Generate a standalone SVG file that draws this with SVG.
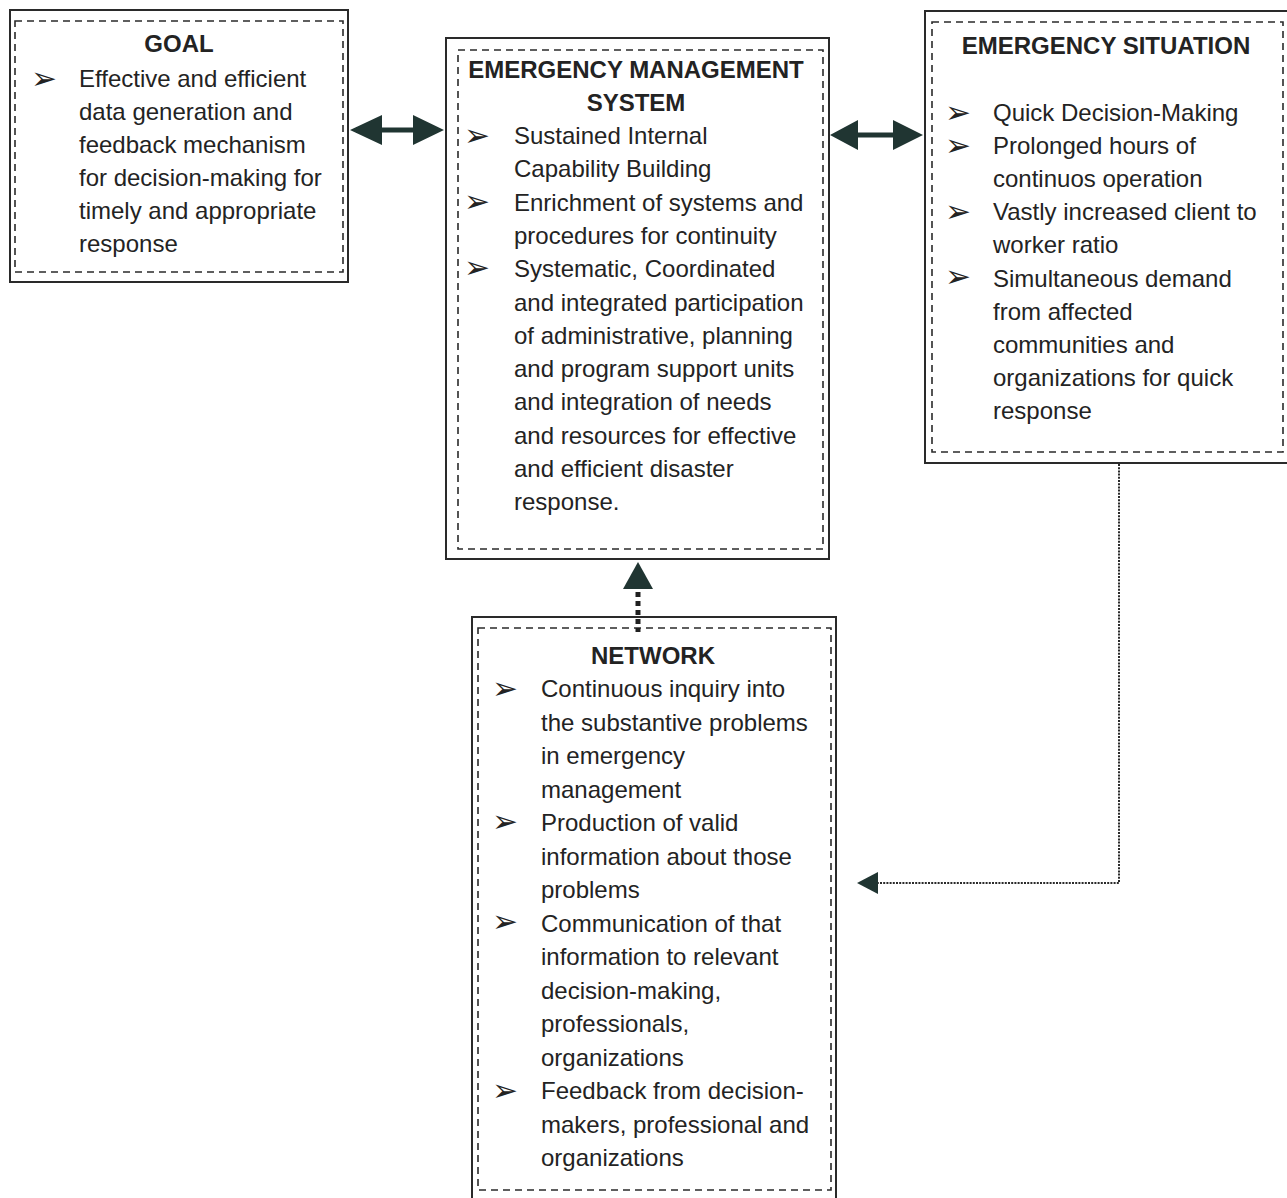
<svg xmlns="http://www.w3.org/2000/svg" width="1287" height="1198" viewBox="0 0 1287 1198">
<style>
.outer{fill:none;stroke:#2a2a2a;stroke-width:2}
.inner{fill:none;stroke:#2a2a2a;stroke-width:1.6;stroke-dasharray:7 5}
.h{font-family:"Liberation Sans",Arial,sans-serif;font-size:24px;font-weight:bold;fill:#232323;text-anchor:middle}
.t{font-family:"Liberation Sans",Arial,sans-serif;font-size:24px;fill:#232323}
.b{font-family:"DejaVu Sans",sans-serif;font-size:31px;fill:#232323}
.arr{fill:#203532}
.dot{fill:none;stroke:#2a2a2a;stroke-width:2;stroke-dasharray:2 1.2}
</style>
<rect width="1287" height="1198" fill="#ffffff"/>

<g id="goal">
<rect class="outer" x="10" y="10" width="338" height="272"/>
<rect class="inner" x="15" y="21" width="328" height="251"/>
<text class="h" x="179" y="52">GOAL</text>
<text class="b" x="31" y="89">➢</text>
<text class="t" x="79" y="87"><tspan x="79" dy="0">Effective and efficient</tspan><tspan x="79" dy="33">data generation and</tspan><tspan x="79" dy="33">feedback mechanism</tspan><tspan x="79" dy="33">for decision-making for</tspan><tspan x="79" dy="33">timely and appropriate</tspan><tspan x="79" dy="33">response</tspan></text>
</g>

<g id="ems">
<rect class="outer" x="446" y="38" width="383" height="521"/>
<rect class="inner" x="458" y="50" width="365" height="499"/>
<text class="h" x="636" y="78">EMERGENCY MANAGEMENT</text>
<text class="h" x="636" y="111">SYSTEM</text>
<text class="b" x="464" y="146">➢</text>
<text class="b" x="464" y="212">➢</text>
<text class="b" x="464" y="278">➢</text>
<text class="t" x="514" y="144"><tspan x="514" dy="0">Sustained Internal</tspan><tspan x="514" dy="33.3">Capability Building</tspan><tspan x="514" dy="33.3">Enrichment of systems and</tspan><tspan x="514" dy="33.3">procedures for continuity</tspan><tspan x="514" dy="33.3">Systematic, Coordinated</tspan><tspan x="514" dy="33.3">and integrated participation</tspan><tspan x="514" dy="33.3">of administrative, planning</tspan><tspan x="514" dy="33.3">and program support units</tspan><tspan x="514" dy="33.3">and integration of needs</tspan><tspan x="514" dy="33.3">and resources for effective</tspan><tspan x="514" dy="33.3">and efficient disaster</tspan><tspan x="514" dy="33.3">response.</tspan></text>
</g>

<g id="emergency-situation">
<rect class="outer" x="925" y="11" width="370" height="452"/>
<rect class="inner" x="932" y="22" width="351" height="430"/>
<text class="h" x="1106" y="54">EMERGENCY SITUATION</text>
<text class="b" x="945" y="123">➢</text>
<text class="b" x="945" y="156">➢</text>
<text class="b" x="945" y="222">➢</text>
<text class="b" x="945" y="287">➢</text>
<text class="t" x="993" y="121"><tspan x="993" dy="0">Quick Decision-Making</tspan><tspan x="993" dy="33.1">Prolonged hours of</tspan><tspan x="993" dy="33.1">continuos operation</tspan><tspan x="993" dy="33.1">Vastly increased client to</tspan><tspan x="993" dy="33.1">worker ratio</tspan><tspan x="993" dy="33.1">Simultaneous demand</tspan><tspan x="993" dy="33.1">from affected</tspan><tspan x="993" dy="33.1">communities and</tspan><tspan x="993" dy="33.1">organizations for quick</tspan><tspan x="993" dy="33.1">response</tspan></text>
</g>

<g id="network">
<rect class="outer" x="472" y="617" width="364" height="590"/>
<rect class="inner" x="478" y="628" width="353" height="562"/>
<text class="h" x="653" y="664">NETWORK</text>
<text class="b" x="492" y="699">➢</text>
<text class="b" x="492" y="832">➢</text>
<text class="b" x="492" y="932">➢</text>
<text class="b" x="492" y="1101">➢</text>
<text class="t" x="541" y="697"><tspan x="541" dy="0">Continuous inquiry into</tspan><tspan x="541" dy="33.5">the substantive problems</tspan><tspan x="541" dy="33.5">in emergency</tspan><tspan x="541" dy="33.5">management</tspan><tspan x="541" dy="33.5">Production of valid</tspan><tspan x="541" dy="33.5">information about those</tspan><tspan x="541" dy="33.5">problems</tspan><tspan x="541" dy="33.5">Communication of that</tspan><tspan x="541" dy="33.5">information to relevant</tspan><tspan x="541" dy="33.5">decision-making,</tspan><tspan x="541" dy="33.5">professionals,</tspan><tspan x="541" dy="33.5">organizations</tspan><tspan x="541" dy="33.5">Feedback from decision-</tspan><tspan x="541" dy="33.5">makers, professional and</tspan><tspan x="541" dy="33.5">organizations</tspan></text>
</g>

<g id="connectors">
<polygon class="arr" points="350,130 382,115 382,127.5 413,127.5 413,115 444,130 413,145 413,132.5 382,132.5 382,145"/>
<polygon class="arr" points="830,135 858,120 858,132.5 893,132.5 893,120 923,135 893,150 893,137.5 858,137.5 858,150"/>
<line x1="638" y1="592" x2="638" y2="632" stroke="#202020" stroke-width="5" stroke-dasharray="5 4"/>
<polygon class="arr" points="638,562 653,589 623,589"/>
<path class="dot" d="M1119,464 V883 H876"/>
<polygon class="arr" points="857,883 878,872 878,894"/>
</g>
</svg>
